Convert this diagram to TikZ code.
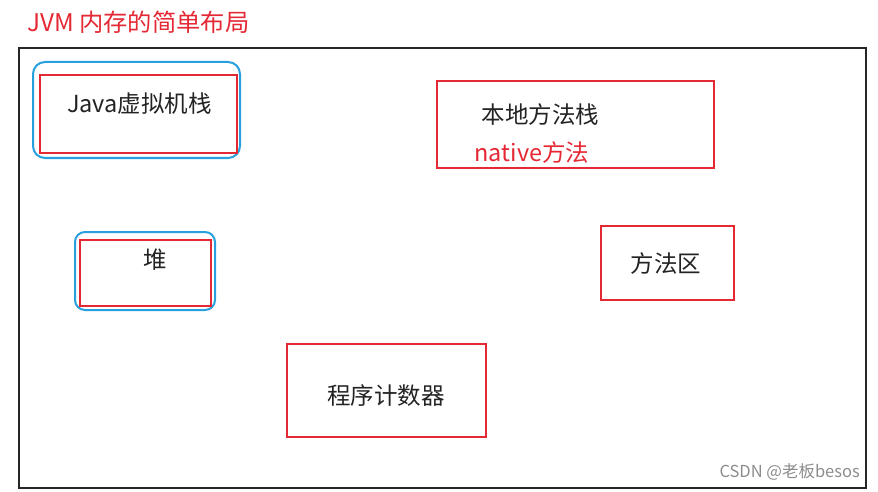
\documentclass[tikz,border=0pt]{standalone}
\usepackage{fontspec}
\setmainfont{Noto Sans CJK SC}
\definecolor{jvmred}{RGB}{228,40,52}
\definecolor{jvmblue}{RGB}{40,160,222}
\definecolor{jvmtext}{RGB}{35,35,35}
\tikzset{
	redbox/.style={draw=jvmred, line width=2pt, inner sep=0pt},
	bluebox/.style={draw=jvmblue, line width=2pt, inner sep=0pt},
	label/.style={text=jvmtext, inner sep=0pt, font=\fontsize{23.5}{26}\selectfont}
}
\begin{document}
\begin{tikzpicture}
	[
	x=1pt, y=-1pt
	]
		\useasboundingbox (0,0) rectangle (878,492);
		
		% title
		\node (title) [anchor=west, inner sep=0pt, text=jvmred, font=\fontsize{24.3}{28}\selectfont] at (27, 22) {JVM 内存的简单布局};
		
		% frame
		\node (frame) [draw=black!85, line width=2.5pt, inner sep=0pt, minimum width=847pt, minimum height=440pt] at (442.5, 268) {};
		
		% Java stack
		\node (stackring) [bluebox, rounded corners=12pt, minimum width=207pt, minimum height=96pt] at (136.5, 110) {};
		\node (stackbox) [redbox, minimum width=197pt, minimum height=78pt] at (138.5, 114) {};
		\node (stack) [label] at (139.5, 104) {Java虚拟机栈};
		
		% native stack
		\node (nativebox) [redbox, minimum width=277pt, minimum height=87pt] at (575.5, 124.5) {};
		\node (native) [label] at (540.5, 115) {本地方法栈};
		\node (nativenote) [label, text=jvmred] at (532, 153) {native方法};
		
		% method area
		\node (methodbox) [redbox, minimum width=133pt, minimum height=74pt] at (667.5, 263) {};
		\node (method) [label] at (666, 264) {方法区};
		
		% heap
		\node (heapring) [bluebox, rounded corners=10pt, minimum width=140pt, minimum height=78pt] at (145, 271) {};
		\node (heapbox) [redbox, minimum width=131pt, minimum height=66pt] at (145.5, 273) {};
		\node (heap) [label] at (155, 260) {堆};
		
		% program counter
		\node (pcbox) [redbox, minimum width=199pt, minimum height=93pt] at (386.5, 390.5) {};
		\node (pc) [label] at (386, 396) {程序计数器};
		
		% mark
		\node (mark) [anchor=east, inner sep=0pt, text=black!45, font=\fontsize{16.5}{18}\selectfont] at (860, 472) {CSDN @老板besos};
	\end{tikzpicture}
\end{document}
